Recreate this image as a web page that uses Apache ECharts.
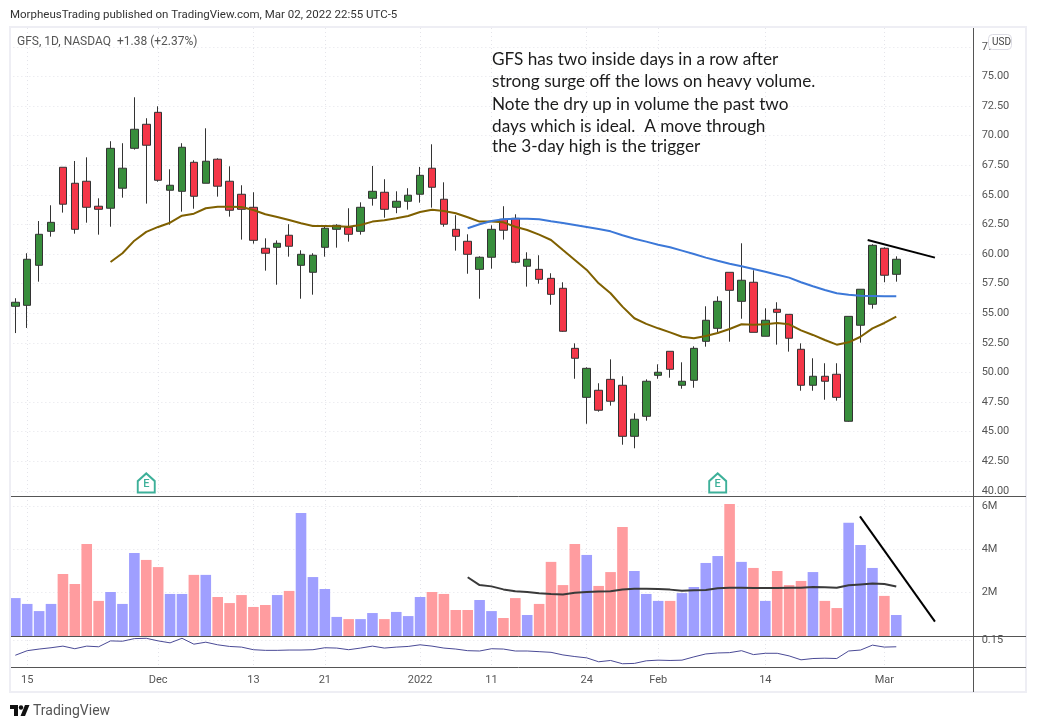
<!DOCTYPE html>
<html>
<head>
<meta charset="utf-8">
<style>html,body{margin:0;padding:0;background:#fff}#c{width:1037px;height:728px}</style>
<script src="https://cdn.jsdelivr.net/npm/echarts@6/dist/echarts.min.js"></script>
</head>
<body>
<div id="c"></div>
<script>
const dates = ['2021-11-12','2021-11-15','2021-11-16','2021-11-17','2021-11-18','2021-11-19','2021-11-22','2021-11-23','2021-11-24','2021-11-26','2021-11-29','2021-11-30',
'2021-12-01','2021-12-02','2021-12-03','2021-12-06','2021-12-07','2021-12-08','2021-12-09','2021-12-10','2021-12-13','2021-12-14','2021-12-15','2021-12-16','2021-12-17','2021-12-20','2021-12-21','2021-12-22','2021-12-23','2021-12-27','2021-12-28','2021-12-29','2021-12-30','2021-12-31',
'2022-01-03','2022-01-04','2022-01-05','2022-01-06','2022-01-07','2022-01-10','2022-01-11','2022-01-12','2022-01-13','2022-01-14','2022-01-18','2022-01-19','2022-01-20','2022-01-21','2022-01-24','2022-01-25','2022-01-26','2022-01-27','2022-01-28','2022-01-31',
'2022-02-01','2022-02-02','2022-02-03','2022-02-04','2022-02-07','2022-02-08','2022-02-09','2022-02-10','2022-02-11','2022-02-14','2022-02-15','2022-02-16','2022-02-17','2022-02-18','2022-02-22','2022-02-23','2022-02-24','2022-02-25','2022-02-28',
'2022-03-01','2022-03-02','2022-03-03','2022-03-04','2022-03-07','2022-03-08','2022-03-09','2022-03-10'];

const tickDates = ['2021-11-15','2021-12-01','2021-12-13','2021-12-21','2022-01-03','2022-01-11','2022-01-24','2022-02-01','2022-02-14','2022-03-01'];
const tickLabels = ['15','Dec','13','21','2022','11','24','Feb','14','Mar'];
const priceTicks = [40,42.5,45,47.5,50,52.5,55,57.5,60,62.5,65,67.5,70,72.5,75,77.5];
const volumeTicks = [2,4,6];
const indicatorTicks = [0.15];

// [open, close, low, high]
const candles = [
[55.59,55.93,53.33,56.27],[55.67,59.56,53.76,60.07],[59.05,61.67,57.67,62.79],[61.92,62.68,61.47,64.12],[67.33,64.21,63.50,67.33],
[65.98,62.09,61.72,67.86],[66.15,63.95,62.65,68.17],[64.04,63.78,61.64,64.71],[63.87,68.93,62.31,69.53],[65.56,67.25,64.76,69.36],
[68.93,70.54,68.82,73.24],[70.96,69.19,64.26,71.47],[71.97,66.23,66.11,72.48],[65.39,65.81,62.48,67.16],[65.30,69.02,63.58,69.36],
[67.75,64.88,63.83,67.92],[65.98,67.84,65.98,70.62],[68.01,65.73,64.85,68.09],[66.15,63.70,63.16,67.41],[65.05,63.78,61.22,65.81],
[63.95,61.16,60.88,65.22],[60.49,60.07,58.60,61.33],[60.57,60.91,57.41,61.16],[61.59,60.66,59.78,62.52],[59.05,59.98,56.23,60.32],
[58.46,59.90,56.57,60.07],[60.57,62.18,59.78,62.43],[62.09,62.43,60.54,62.52],[62.26,61.67,61.05,63.87],[61.92,63.95,61.64,64.37],
[64.71,65.30,64.09,67.44],[65.22,63.78,63.07,66.32],[63.95,64.46,63.45,65.30],[64.46,64.97,63.75,65.56],[65.05,66.65,64.34,67.36],
[67.25,65.64,63.92,69.27],[64.63,62.52,62.31,66.06],[62.09,61.50,60.29,63.28],[61.08,59.98,58.34,61.67],[58.71,59.73,56.23,59.81],
[59.73,62.09,58.77,62.43],[62.94,62.01,61.22,64.04],[63.02,59.31,59.22,63.36],[58.97,59.56,57.25,60.15],[58.71,57.87,57.50,59.90],
[57.95,56.60,55.72,58.38],[57.11,53.48,53.44,57.62],[52.04,51.20,49.47,52.46],[47.90,50.35,45.67,50.44],[48.50,46.81,46.69,49.09],
[49.42,47.57,47.20,51.11],[48.92,44.61,43.90,49.68],[44.61,46.05,43.60,46.55],[46.30,49.26,45.93,49.42],[49.76,50.02,49.47,50.69],
[51.79,50.27,49.56,51.79],[48.92,49.26,48.63,50.86],[49.34,52.04,48.71,52.21],[52.63,54.41,52.18,55.59],[53.73,56.01,53.39,56.43],
[58.46,56.94,52.60,58.46],[56.01,57.79,54.54,60.91],[57.62,53.39,53.39,58.63],[53.06,54.41,53.06,55.42],[55.34,55.08,52.35,55.93],
[54.91,52.89,51.76,54.91],[51.96,48.92,48.46,52.46],[48.92,49.68,48.46,51.20],[49.68,49.26,47.70,50.78],[49.85,47.90,47.62,50.78],
[45.88,54.74,45.84,54.74],[53.99,57.03,52.52,57.03],[55.76,60.74,55.39,60.83],[60.49,58.21,57.62,60.57],[58.29,59.56,57.67,59.81]
];

// Moving average, first value on the 9th session
const maFastStart = 8;
const maFast = [59.33,60.07,61.13,61.87,62.29,62.65,63.24,63.41,63.87,64.00,64.00,63.98,63.72,63.36,63.13,62.88,62.60,62.37,62.37,62.35,
62.31,62.46,62.74,62.85,63.02,63.22,63.55,63.75,63.64,63.45,63.11,62.74,62.74,62.68,62.31,62.03,61.64,61.19,60.34,59.50,58.66,57.53,56.69,55.56,54.58,54.10,53.73,53.39,53.02,
52.89,53.08,53.33,53.67,54.07,54.04,54.07,54.18,54.07,53.56,53.17,52.74,52.35,52.55,53.02,53.73,54.18,54.71];

// Moving average, first value on the 39th session
const maSlowStart = 38;
const maSlow = [62.18,62.52,62.79,62.94,62.99,62.99,62.94,62.77,62.63,62.46,62.29,62.12,61.92,61.59,61.30,61.05,60.79,60.57,60.29,
60.01,59.70,59.44,59.19,58.97,58.74,58.51,58.26,58.01,57.62,57.28,56.97,56.69,56.57,56.49,56.46,56.43,56.43];

// Volume, millions
const volume = [1.75,1.48,1.15,1.48,2.86,2.40,4.25,1.62,2.03,1.48,3.83,3.51,3.18,1.94,1.94,2.82,2.82,1.80,1.52,1.89,
1.34,1.43,1.89,2.08,5.68,2.72,2.17,0.88,0.78,0.78,1.06,0.78,1.11,0.92,1.80,2.03,1.94,1.20,1.20,1.66,
1.15,0.83,1.75,0.97,1.48,3.42,2.35,4.25,3.74,2.31,2.95,5.03,3.00,1.94,1.62,1.62,1.98,2.26,3.37,3.69,
6.09,3.42,3.14,1.62,3.00,2.35,2.54,2.95,1.62,1.29,5.22,4.20,3.14,1.85,0.97];

const volumeMaStart = 38;
const volumeMa = [2.71,2.35,2.29,2.15,2.06,2.03,1.97,1.94,1.92,2.00,2.03,2.05,2.06,2.15,2.18,2.18,2.17,2.14,2.09,2.11,2.12,2.20,2.23,2.23,2.22,2.22,2.22,2.23,2.23,2.26,2.25,2.23,2.34,2.38,2.42,2.40,2.28];

const indicator = [0.103,0.117,0.122,0.126,0.131,0.123,0.131,0.129,0.147,0.146,0.154,0.155,0.147,0.141,0.155,0.137,0.143,0.135,0.130,0.128,
0.120,0.118,0.118,0.119,0.119,0.120,0.126,0.125,0.120,0.125,0.131,0.125,0.128,0.130,0.135,0.131,0.125,0.122,0.117,0.116,
0.123,0.122,0.116,0.116,0.114,0.112,0.104,0.099,0.095,0.083,0.087,0.077,0.078,0.086,0.088,0.087,0.088,0.098,0.107,0.110,
0.111,0.117,0.105,0.109,0.109,0.101,0.089,0.093,0.094,0.093,0.116,0.119,0.134,0.128,0.129];

const earningsDates = ['2021-11-30','2022-02-08'];
const earningsLevel = 40.67;

// Hand-drawn trend lines [session index, value]
const priceTrend = [[71.6,61.19],[77.25,59.70]];
const volumeTrend = [[70.95,5.52],[77.25,0.66]];

const annotation = ['GFS has two inside days in a row after','strong surge off the lows on heavy volume.','Note the dry up in volume the past two','days which is ideal.  A move through','the 3-day high is the trigger'];
const annotationY = [59,81.7,104,126,146];

const font = 'Roboto, "Liberation Sans", sans-serif';
const axisColor = '#555';
const gridColor = '#e4e4ea';
const upColor = '#388e3c', downColor = '#f43648';
const upVol = '#9f9fff', downVol = '#ff9c9f';

const pad = (n, arr) => new Array(n).fill(null).concat(arr);
const pos = {left: 9.35, width: 964.3};

function xAxis(i, showLabel) {
  return {
    type: 'category', gridIndex: i, data: dates, boundaryGap: true,
    axisLine: {show: false}, axisTick: {show: false},
    splitLine: {show: true, alignWithLabel: true, interval: (idx, v) => tickDates.includes(v),
      lineStyle: {color: gridColor, type: [1, 3], width: 1}},
    axisLabel: {show: showLabel, interval: (idx, v) => tickDates.includes(v), margin: 8,
      color: axisColor, fontFamily: font, fontSize: 11, hideOverlap: false,
      formatter: v => { const k = tickDates.indexOf(v); return k >= 0 ? tickLabels[k] : ''; }}
  };
}
function yAxis(i, min, max, ticks, fmt) {
  return {
    type: 'value', gridIndex: i, position: 'right', min, max, scale: true,
    axisLine: {show: false},
    axisTick: {show: false, customValues: ticks},
    splitLine: {show: true, lineStyle: {color: gridColor, type: [1, 3], width: 1}},
    axisLabel: {customValues: ticks, formatter: fmt, margin: 8, color: axisColor, fontFamily: font, fontSize: 11,
      showMinLabel: true, showMaxLabel: true, hideOverlap: false}
  };
}
// A category axis only takes whole sessions, so a fractional session is placed between its two neighbours.
function trendSeries(axisIndex, t) {
  const at = (api, p) => {
    const a = api.coord([Math.floor(p[0]), p[1]]);
    const b = api.coord([Math.floor(p[0]) + 1, p[1]]);
    return [a[0] + (b[0] - a[0]) * (p[0] - Math.floor(p[0])), a[1]];
  };
  return {
    type: 'custom', xAxisIndex: axisIndex, yAxisIndex: axisIndex, silent: true, clip: false, z: 7,
    data: [[dates[0], t[0][1]]],
    renderItem: (params, api) => {
      const p0 = at(api, t[0]), p1 = at(api, t[1]);
      return {type: 'line', shape: {x1: p0[0], y1: p0[1], x2: p1[0], y2: p1[1]},
        style: {stroke: '#000', lineWidth: 2, fill: null}};
    }
  };
}

const text = (x, y, s, size, color, family) => ({type: 'text', z: 100, x, y,
  style: {text: s, fontSize: size, fill: color, fontFamily: family || font, textVerticalAlign: 'middle', textAlign: 'left'}});
const hline = (y) => ({type: 'line', z: 90, shape: {x1: 11, y1: y, x2: 1026, y2: y}, style: {stroke: '#555', lineWidth: 1}});

const graphics = [
  {type: 'rect', z: 89, shape: {x: 10, y: 27, width: 1016, height: 665}, style: {fill: 'none', stroke: '#eeeef4', lineWidth: 2}},
  hline(496.5), hline(636.5), hline(667.5),
  {type: 'line', z: 90, shape: {x1: 973.5, y1: 28, x2: 973.5, y2: 692}, style: {stroke: '#555', lineWidth: 1}},
  text(10, 15, 'MorpheusTrading published on TradingView.com, Mar 02, 2022 22:55 UTC-5', 11.5, '#333'),
  text(17, 42, 'GFS, 1D, NASDAQ  +1.38 (+2.37%)', 12, '#555'),
  {type: 'rect', z: 95, shape: {x: 988.5, y: 34.5, width: 23, height: 15, r: 4}, style: {fill: '#fff', stroke: '#dcdce4', lineWidth: 1}},
  text(992, 42, 'USD', 10, '#444'),
  {type: 'polygon', z: 100, shape: {points: [[10,705],[18,705],[18,716],[14,716],[14,709],[10,709]]}, style: {fill: '#111'}},
  {type: 'circle', z: 100, shape: {cx: 21, cy: 707.5, r: 2.2}, style: {fill: '#111'}},
  {type: 'polygon', z: 100, shape: {points: [[25,705],[29.5,705],[25,716],[20.5,716]]}, style: {fill: '#111'}},
  text(33, 711, 'TradingView', 14, '#555')
].concat(annotation.map((s, i) => text(492, annotationY[i], s, 17.2, '#1c1c1c', 'Lato, "Open Sans", sans-serif')));

const chart = echarts.init(document.getElementById('c'), null, {renderer: 'canvas'});
chart.setOption({
  animation: false,
  backgroundColor: '#fff',
  grid: [
    Object.assign({top: 28, height: 468}, pos),
    Object.assign({top: 496, height: 140}, pos),
    Object.assign({top: 636, height: 31}, pos)
  ],
  xAxis: [xAxis(0, false), xAxis(1, false), xAxis(2, true)],
  yAxis: [
    yAxis(0, 39.57, 79.09, priceTicks, v => Number(v).toFixed(2)),
    yAxis(1, 0, 6.46, volumeTicks, v => v + 'M'),
    yAxis(2, 0.067, 0.162, indicatorTicks, v => Number(v).toFixed(2))
  ],
  graphic: graphics,
  series: [
    {type: 'candlestick', xAxisIndex: 0, yAxisIndex: 0, data: candles, barWidth: 8, clip: false,
      itemStyle: {color: upColor, color0: downColor, borderColor: '#333', borderColor0: '#333', borderColorDoji: '#333', borderWidth: 1}},
    {type: 'line', xAxisIndex: 0, yAxisIndex: 0, data: pad(maFastStart, maFast), symbol: 'none', z: 5,
      lineStyle: {color: '#7f6000', width: 2}},
    {type: 'line', xAxisIndex: 0, yAxisIndex: 0, data: pad(maSlowStart, maSlow), symbol: 'none', z: 5,
      lineStyle: {color: '#3c78d8', width: 2}},
    {type: 'scatter', xAxisIndex: 0, yAxisIndex: 0, z: 6,
      data: earningsDates.map(d => [d, earningsLevel]),
      symbol: 'path://M0,8 L9,0 L18,8 L18,20 L0,20 Z', symbolSize: [17, 19],
      itemStyle: {color: '#fff', borderColor: '#0d9c80', borderWidth: 2},
      label: {show: true, position: 'inside', formatter: 'E', color: '#0d9c80', fontSize: 11, fontWeight: 500, fontFamily: font, offset: [0, 1]}},
    {type: 'bar', xAxisIndex: 1, yAxisIndex: 1, barWidth: 10.6,
      data: volume.map((v, i) => ({value: v, itemStyle: {color: candles[i][1] >= candles[i][0] ? upVol : downVol}}))},
    {type: 'line', xAxisIndex: 1, yAxisIndex: 1, data: pad(volumeMaStart, volumeMa), symbol: 'none', z: 5,
      lineStyle: {color: '#3a3a3a', width: 2}},
    {type: 'line', xAxisIndex: 2, yAxisIndex: 2, data: indicator, symbol: 'none', z: 5,
      lineStyle: {color: '#4a4a96', width: 1}},
    trendSeries(0, priceTrend),
    trendSeries(1, volumeTrend)
  ]
});
</script>
</body>
</html>
